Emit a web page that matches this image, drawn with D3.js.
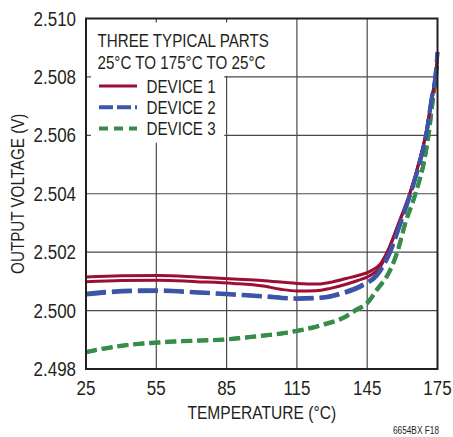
<!DOCTYPE html>
<html>
<head>
<meta charset="utf-8">
<script src="https://cdn.jsdelivr.net/npm/d3@7"></script>
<style>
  html, body { margin: 0; padding: 0; background: #fff; }
  svg { display: block; }
  text { font-family: "Liberation Sans", Arial, sans-serif; fill: #231f20; }
</style>
</head>
<body>
<div id="chart"></div>
<script>
// ---- data (temperature °C, output voltage V) ----
var xTicks = [25, 55, 85, 115, 145, 175];
var yTicks = [2.498, 2.500, 2.502, 2.504, 2.506, 2.508, 2.510];

// device 1: the two legs of the 25→175→25 sweep
var dev1Up = [[25, 2.50115], [40, 2.50119], [56, 2.50120], [72, 2.50115], [88, 2.50108], [100, 2.50103],
  [115, 2.50093], [124, 2.50091], [129.3, 2.50097], [136, 2.50110], [141, 2.50120], [146.4, 2.50135],
  [150.6, 2.50160], [153.5, 2.50200], [158.5, 2.50301], [163.2, 2.50402], [167.5, 2.50520], [170.2, 2.50612],
  [172.4, 2.50720], [174.1, 2.50800], [175, 2.50868]];
var dev1Down = [[25, 2.50099], [40, 2.50103], [56, 2.50104], [72, 2.50099], [88, 2.50093], [100.6, 2.50084],
  [108, 2.50073], [115, 2.50067], [123, 2.50068], [129.3, 2.50076], [136, 2.50090], [141, 2.50103],
  [146.4, 2.50121], [150.6, 2.50150], [153.5, 2.50196], [158.5, 2.50298], [163.2, 2.50400], [167.5, 2.50518],
  [170.2, 2.50610], [172.4, 2.50718], [174.1, 2.50798], [175, 2.50866]];

var dev2Up = [[25, 2.50058], [35, 2.50065], [45.5, 2.50069], [56, 2.50070], [71, 2.50064], [88, 2.50056],
  [100.6, 2.50050], [115, 2.50042], [126.3, 2.50046], [134.8, 2.50062], [143.4, 2.50090], [149.2, 2.50124],
  [154.6, 2.50200], [159.2, 2.50301], [163.5, 2.50402], [167.7, 2.50517], [170.3, 2.50609], [172.4, 2.50722],
  [174.1, 2.50802], [175, 2.50886]];
var dev2Down = [[25, 2.50055], [35, 2.50062], [45.5, 2.50066], [56, 2.50067], [71, 2.50062], [88, 2.50054],
  [100.6, 2.50048], [115, 2.50040], [126.3, 2.50044], [134.8, 2.50059], [143.4, 2.50087], [149.2, 2.50120],
  [154.6, 2.50196], [159.2, 2.50298], [163.5, 2.50400], [167.7, 2.50515], [170.3, 2.50607], [172.4, 2.50720],
  [174.1, 2.50800], [175, 2.50884]];

var dev3Up = [[25, 2.49858], [31, 2.49868], [40, 2.49880], [55, 2.49891], [70, 2.49897], [85, 2.49902],
  [96.5, 2.49911], [110.8, 2.49925], [125, 2.49950], [135.7, 2.49980], [140, 2.50002], [145, 2.50027],
  [149.2, 2.50073], [154.2, 2.50130], [157.8, 2.50200], [161.3, 2.50301], [165.6, 2.50401], [169.4, 2.50517],
  [171.3, 2.50609], [173, 2.50722], [174.1, 2.50790], [175, 2.50852]];
var dev3Down = [[25, 2.49857], [31, 2.49867], [40, 2.49879], [55, 2.49890], [70, 2.49896], [85, 2.49901],
  [96.5, 2.49910], [110.8, 2.49924], [125, 2.49948], [135.7, 2.49978], [140, 2.50000], [145, 2.50025],
  [149.2, 2.50071], [154.2, 2.50128], [157.8, 2.50198], [161.3, 2.50299], [165.6, 2.50399], [169.4, 2.50515],
  [171.3, 2.50607], [173, 2.50720], [174.1, 2.50788], [175, 2.50850]];

var legendTitle = ["THREE TYPICAL PARTS", "25°C TO 175°C TO 25°C"];
var legendNames = ["DEVICE 1", "DEVICE 2", "DEVICE 3"];

(function () {
  "use strict";
  var W = 453, H = 437;
  var margin = { top: 18.5, right: 15.5, bottom: 68, left: 86 };
  var iw = W - margin.left - margin.right, ih = H - margin.top - margin.bottom;

  var RED = "#9c0f35", BLUE = "#3c55a6", GREEN = "#368c4a", GRID = "#4a4a4a";

  var svg = d3.select("#chart").append("svg").attr("width", W).attr("height", H);
  var g = svg.append("g").attr("transform", "translate(" + margin.left + "," + margin.top + ")");

  var x = d3.scaleLinear().domain([25, 175]).range([0, iw]);
  var y = d3.scaleLinear().domain([2.498, 2.510]).range([ih, 0]);

  // condensed look: no narrow face installed, so squeeze Liberation Sans horizontally
  function label(parent, px, py, str, size, anchor, sx, rot) {
    return parent.append("text")
      .attr("transform", "translate(" + px + "," + py + ")" + (rot ? " rotate(" + rot + ")" : "") +
        " scale(" + sx + ",1)")
      .attr("text-anchor", anchor || "start")
      .attr("font-size", size)
      .text(str);
  }

  // ---- grid ----
  g.append("g").selectAll("line").data(xTicks.slice(1, -1)).enter().append("line")
    .attr("x1", function (d) { return x(d); }).attr("x2", function (d) { return x(d); })
    .attr("y1", 0).attr("y2", ih)
    .attr("stroke", GRID).attr("stroke-width", 1.2);
  g.append("g").selectAll("line").data(yTicks.slice(1, -1)).enter().append("line")
    .attr("x1", 0).attr("x2", iw)
    .attr("y1", function (d) { return y(d); }).attr("y2", function (d) { return y(d); })
    .attr("stroke", GRID).attr("stroke-width", 1.2);

  // ---- white area behind the legend text (grid hidden there) ----
  g.append("rect").attr("x", 0).attr("y", 0).attr("width", x(108)).attr("height", y(2.5080) - 1)
    .attr("fill", "#fff");
  g.append("rect").attr("x", 0).attr("y", 0).attr("width", x(84)).attr("height", y(2.50575))
    .attr("fill", "#fff");

  // small inward ticks where the grid is hidden
  var tk = g.append("g").attr("stroke", GRID).attr("stroke-width", 1.2);
  [2.506, 2.508].forEach(function (v) {
    tk.append("line").attr("x1", 0).attr("x2", 5).attr("y1", y(v)).attr("y2", y(v));
  });
  [55, 85].forEach(function (v) {
    tk.append("line").attr("x1", x(v)).attr("x2", x(v)).attr("y1", 0).attr("y2", 4);
  });

  // ---- tick labels ----
  var yl = g.append("g");
  yTicks.forEach(function (d) {
    label(yl, -10, y(d) + 7, d.toFixed(3), 19.5, "end", 0.87);
  });
  var xl = g.append("g");
  xTicks.forEach(function (d) {
    label(xl, x(d), ih + 26, String(d), 19.5, "middle", 0.87);
  });

  // ---- axis titles ----
  label(g, iw / 2, ih + 50, "TEMPERATURE (°C)", 19, "middle", 0.82);
  label(g, -62, ih / 2, "OUTPUT VOLTAGE (V)", 19, "middle", 0.8, -90);
  label(svg, 439, 434, "6654BX F18", 10.5, "end", 0.79);

  // ---- curves ----
  var line = d3.line()
    .x(function (p) { return x(p[0]); })
    .y(function (p) { return y(p[1]); })
    .curve(d3.curveMonotoneX);

  var series = [
    { data: dev3Up, color: GREEN, w: 4, dash: "11,5" },
    { data: dev3Down, color: GREEN, w: 4, dash: "11,5" },
    { data: dev1Up, color: RED, w: 3, dash: null },
    { data: dev1Down, color: RED, w: 3, dash: null },
    { data: dev2Up, color: BLUE, w: 4, dash: "20,6" },
    { data: dev2Down, color: BLUE, w: 4, dash: "20,6" }
  ];
  var cg = g.append("g");
  series.forEach(function (s) {
    cg.append("path").datum(s.data)
      .attr("fill", "none").attr("stroke", s.color).attr("stroke-width", s.w)
      .attr("stroke-dasharray", s.dash)
      .attr("d", line);
  });

  // ---- frame ----
  g.append("rect").attr("x", 0).attr("y", 0).attr("width", iw).attr("height", ih)
    .attr("fill", "none").attr("stroke", "#231f20").attr("stroke-width", 2);

  // ---- legend ----
  var lg = g.append("g");
  legendTitle.forEach(function (t, i) {
    label(lg, 11.5, 28 + i * 22.6, t, 18.5, "start", 0.82);
  });
  var legStyles = [
    { color: RED, w: 3, dash: null },
    { color: BLUE, w: 4, dash: "14,4" },
    { color: GREEN, w: 4, dash: "9,6" }
  ];
  legendNames.forEach(function (n, i) {
    var yy = 67.5 + i * 21.2;
    lg.append("line").attr("x1", 13).attr("x2", 51).attr("y1", yy).attr("y2", yy)
      .attr("stroke", legStyles[i].color).attr("stroke-width", legStyles[i].w)
      .attr("stroke-dasharray", legStyles[i].dash);
    label(lg, 60.5, yy + 6.8, n, 18.5, "start", 0.82);
  });
})();
</script>
</body>
</html>
